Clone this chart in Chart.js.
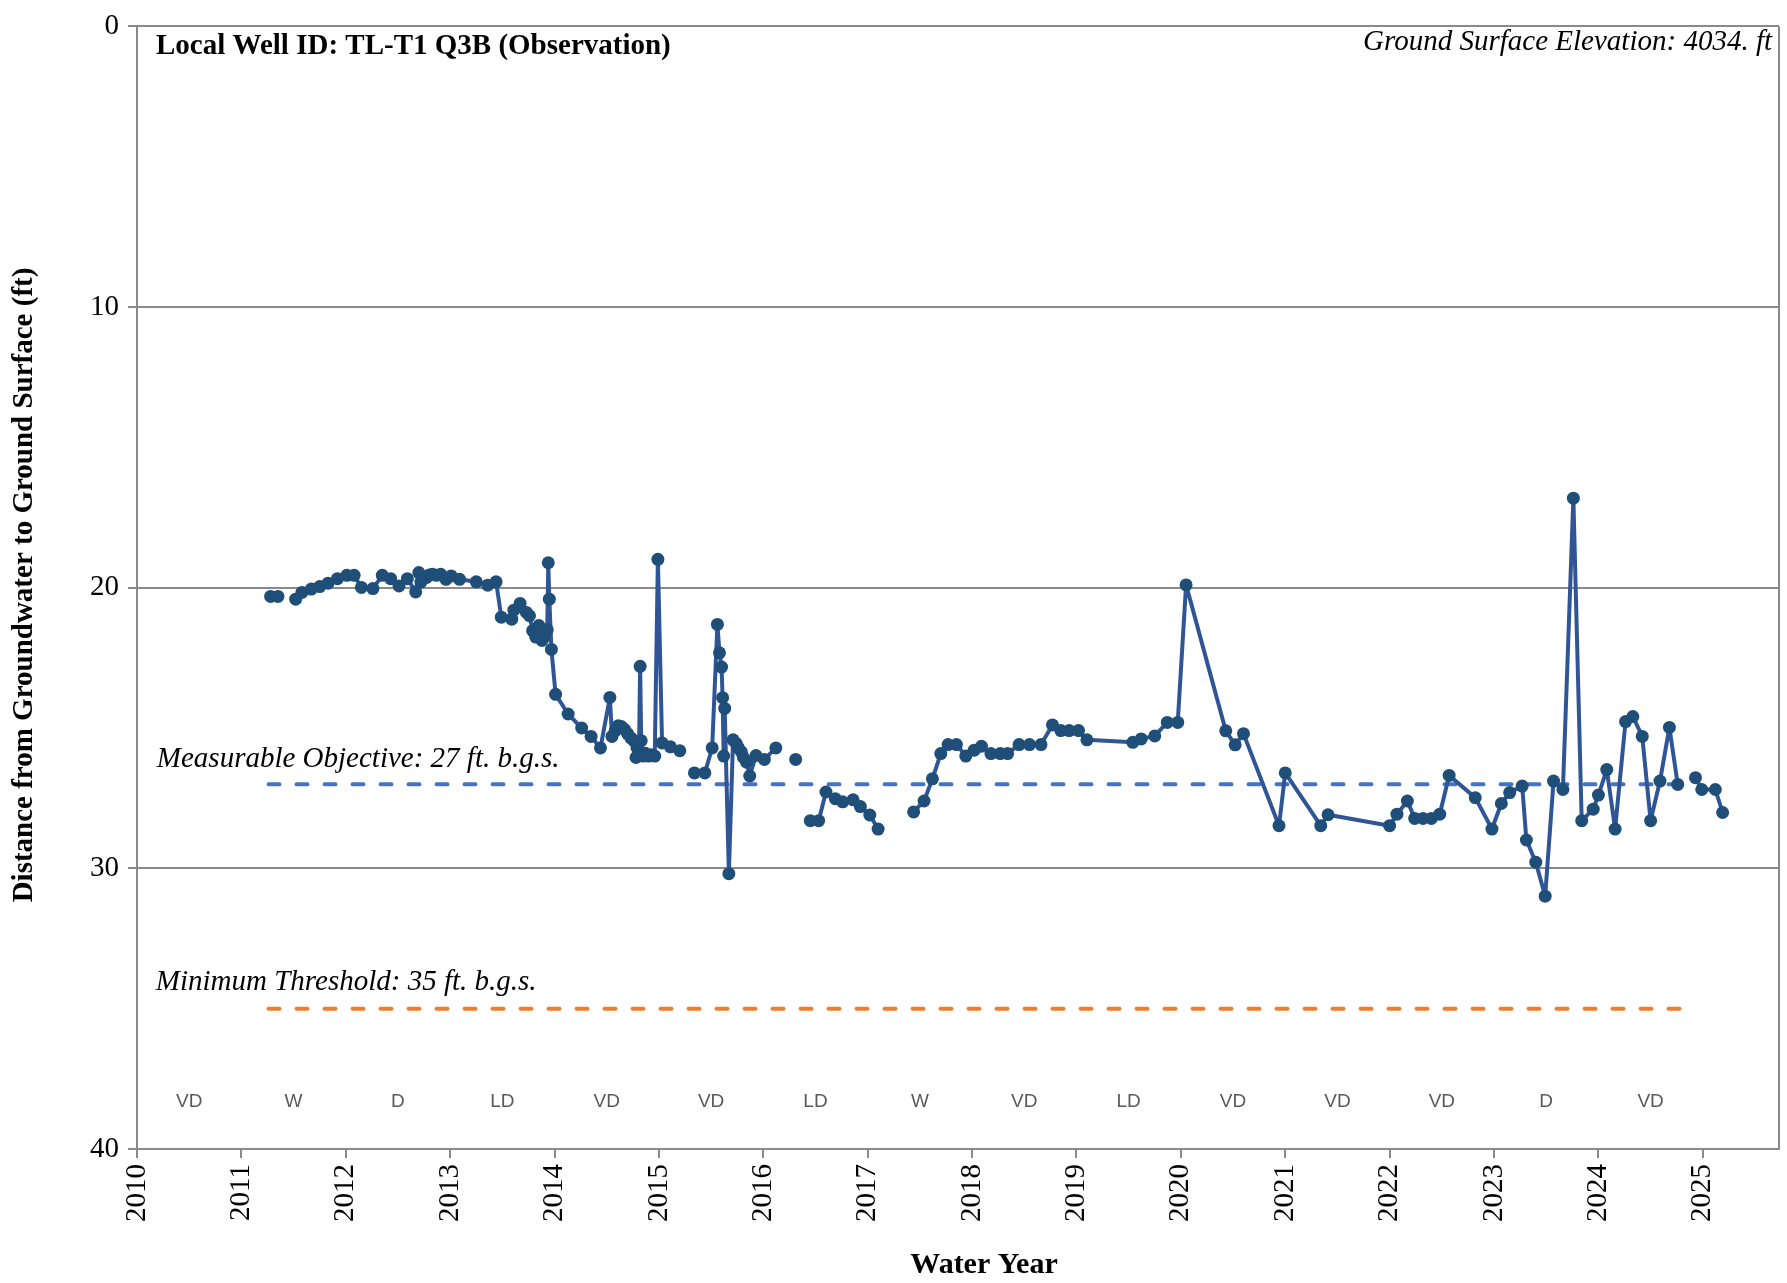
<!DOCTYPE html>
<html>
<head>
<meta charset="utf-8">
<script src="https://cdn.jsdelivr.net/npm/chart.js@4.4.0/dist/chart.umd.min.js"></script>
<style>
  html, body { margin: 0; padding: 0; background: #fff; }
</style>
</head>
<body>
<canvas id="chart" width="1787" height="1283"></canvas>
<script>
// measurement dates (decimal year) and depth to water (ft); null = break in line
const years = [
  2011.28, 2011.35, 2011.43, 2011.52, 2011.58, 2011.67, 2011.75, 2011.83, 2011.92, 2012.01,
  2012.08, 2012.15, 2012.26, 2012.35, 2012.43, 2012.51, 2012.59, 2012.67, 2012.70, 2012.72,
  2012.77, 2012.80, 2012.83, 2012.87, 2012.91, 2012.96, 2013.01, 2013.09, 2013.25, 2013.36,
  2013.44, 2013.49, 2013.59, 2013.61, 2013.67, 2013.73, 2013.76, 2013.79, 2013.81, 2013.82,
  2013.84, 2013.85, 2013.87, 2013.88, 2013.90, 2013.91, 2013.93, 2013.94, 2013.95, 2013.97,
  2014.01, 2014.13, 2014.26, 2014.35, 2014.44, 2014.53, 2014.55, 2014.58, 2014.61, 2014.64,
  2014.67, 2014.70, 2014.73, 2014.76, 2014.78, 2014.79, 2014.81, 2014.82, 2014.83, 2014.85,
  2014.87, 2014.90, 2014.93, 2014.96, 2014.99, 2015.03, 2015.11, 2015.20, 2015.27, 2015.34,
  2015.44, 2015.51, 2015.56, 2015.58, 2015.60, 2015.61, 2015.62, 2015.63, 2015.67, 2015.71,
  2015.74, 2015.76, 2015.79, 2015.81, 2015.84, 2015.87, 2015.93, 2016.01, 2016.12, 2016.20,
  2016.31, 2016.38, 2016.45, 2016.53, 2016.60, 2016.69, 2016.76, 2016.86, 2016.93, 2017.02,
  2017.10, 2017.30, 2017.44, 2017.54, 2017.62, 2017.70, 2017.77, 2017.85, 2017.94, 2018.02,
  2018.09, 2018.18, 2018.27, 2018.34, 2018.45, 2018.55, 2018.66, 2018.77, 2018.85, 2018.93,
  2019.02, 2019.10, 2019.54, 2019.62, 2019.75, 2019.87, 2019.97, 2020.05, 2020.43, 2020.52,
  2020.60, 2020.94, 2021.00, 2021.34, 2021.41, 2022.00, 2022.07, 2022.17, 2022.24, 2022.32,
  2022.40, 2022.48, 2022.57, 2022.82, 2022.98, 2023.07, 2023.15, 2023.27, 2023.31, 2023.40,
  2023.49, 2023.57, 2023.66, 2023.76, 2023.84, 2023.95, 2024.00, 2024.08, 2024.16, 2024.26,
  2024.33, 2024.42, 2024.50, 2024.59, 2024.68, 2024.76, 2024.85, 2024.93, 2024.99, 2025.12,
  2025.19
];
const depths = [
  20.31, 20.31, null, 20.41, 20.17, 20.05, 19.96, 19.84, 19.68, 19.56,
  19.56, 19.99, 20.03, 19.56, 19.68, 19.94, 19.68, 20.15, 19.46, 19.80,
  19.64, 19.55, 19.52, 19.56, 19.52, 19.70, 19.58, 19.70, 19.79, 19.91,
  19.79, 21.05, 21.12, 20.80, 20.56, 20.88, 21.00, 21.53, 21.60, 21.76,
  21.45, 21.35, 21.70, 21.88, 21.75, 21.58, 21.50, 19.11, 20.41, 22.20,
  23.80, 24.50, 25.00, 25.30, 25.71, 23.91, 25.30, 25.10, 24.92, 24.95,
  25.05, 25.20, 25.35, 25.45, 26.05, 25.70, 25.50, 22.80, 25.45, 26.00,
  25.90, 26.00, 25.95, 26.00, 18.99, 25.53, 25.67, 25.81, null, 26.60,
  26.60, 25.71, 21.31, 22.32, 22.83, 23.92, 26.00, 24.30, 30.19, 25.42,
  25.55, 25.70, 25.85, 26.05, 26.22, 26.71, 25.98, 26.12, 25.71, null,
  26.12, null, 28.30, 28.30, 27.28, 27.52, 27.63, 27.56, 27.80, 28.10,
  28.60, null, 27.99, 27.60, 26.81, 25.91, 25.59, 25.59, 26.00, 25.79,
  25.65, 25.91, 25.91, 25.91, 25.59, 25.59, 25.59, 24.89, 25.09, 25.09,
  25.09, 25.42, 25.51, 25.39, 25.28, 24.80, 24.80, 19.90, 25.10, 25.60,
  25.20, 28.48, 26.60, 28.48, 28.09, 28.48, 28.07, 27.60, 28.22, 28.22,
  28.22, 28.07, 26.69, 27.48, 28.60, 27.69, 27.30, 27.07, 28.99, 29.78,
  30.99, 26.89, 27.19, 16.81, 28.30, 27.89, 27.39, 26.48, 28.60, 24.77,
  24.59, 25.30, 28.30, 26.89, 24.98, 27.01, null, 26.77, 27.19, 27.19,
  28.01
];

// sustainability criteria (ft b.g.s.) and the span they are drawn over
const measurableObjective = 27;
const minimumThreshold = 35;
const criteriaSpan = [2011.26, 2024.83];

// water year types, one per year starting 2010
const wyStart = 2010;
const waterYearTypes = ['VD', 'W', 'D', 'LD', 'VD', 'VD', 'LD', 'W', 'VD', 'LD', 'VD', 'VD', 'VD', 'D', 'VD'];

const yTicks = [0, 10, 20, 30, 40];

const wellData = years.map((x, i) => ({ x: x, y: depths[i] }));
const moData = criteriaSpan.map(x => ({ x: x, y: measurableObjective }));
const mtData = criteriaSpan.map(x => ({ x: x, y: minimumThreshold }));

const GRID = '#8a8a8a';
const SERIF = '"Liberation Serif", "Times New Roman", serif';

const annotations = {
  id: 'annotations',
  afterDraw(chart) {
    const ctx = chart.ctx;
    const area = chart.chartArea;
    const xs = chart.scales.x;
    const ys = chart.scales.y;
    ctx.save();

    // right border of the plot box
    ctx.strokeStyle = GRID;
    ctx.lineWidth = 2;
    ctx.beginPath();
    ctx.moveTo(area.right, area.top);
    ctx.lineTo(area.right, area.bottom);
    ctx.stroke();

    ctx.fillStyle = '#000';
    ctx.textBaseline = 'middle';

    ctx.font = 'bold 29px ' + SERIF;
    ctx.textAlign = 'left';
    ctx.fillText('Local Well ID: TL-T1 Q3B (Observation)', area.left + 19, 47);

    ctx.font = 'italic 29px ' + SERIF;
    ctx.textAlign = 'right';
    ctx.fillText('Ground Surface Elevation: 4034. ft', area.right - 7, 42);

    ctx.textAlign = 'left';
    ctx.fillText('Measurable Objective: ' + measurableObjective + ' ft. b.g.s.', xs.getPixelForValue(2010.19), ys.getPixelForValue(26.1));
    ctx.fillText('Minimum Threshold: ' + minimumThreshold + ' ft. b.g.s.', xs.getPixelForValue(2010.18), ys.getPixelForValue(34.05));

    // water year type labels
    ctx.font = '19px "Liberation Sans Narrow", "Liberation Sans", sans-serif';
    ctx.fillStyle = '#595959';
    ctx.textAlign = 'center';
    waterYearTypes.forEach((t, i) => {
      ctx.fillText(t, xs.getPixelForValue(wyStart + i + 0.5), ys.getPixelForValue(38.3));
    });

    // axis titles
    ctx.fillStyle = '#000';
    ctx.font = 'bold 30px ' + SERIF;
    ctx.fillText('Water Year', 984, 1265);

    ctx.font = 'bold 29px ' + SERIF;
    ctx.translate(25, 585);
    ctx.rotate(-Math.PI / 2);
    ctx.fillText('Distance from Groundwater to Ground Surface (ft)', 0, 0);
    ctx.restore();
  }
};

const chart = new Chart(document.getElementById('chart').getContext('2d'), {
  type: 'line',
  data: {
    datasets: [
      {
        label: 'Depth to Water',
        data: wellData,
        borderColor: '#2f5597',
        borderWidth: 4,
        borderJoinStyle: 'round',
        pointRadius: 6.5,
        pointBackgroundColor: '#1f4e79',
        pointBorderColor: '#1f4e79',
        pointBorderWidth: 0,
        spanGaps: false,
        tension: 0,
        order: 0
      },
      {
        label: 'Measurable Objective',
        data: moData,
        borderColor: '#4472c4',
        borderWidth: 4,
        borderDash: [11, 17],
        borderCapStyle: 'round',
        pointRadius: 0,
        order: 1
      },
      {
        label: 'Minimum Threshold',
        data: mtData,
        borderColor: '#ed7d31',
        borderWidth: 4,
        borderDash: [11, 17],
        borderCapStyle: 'round',
        pointRadius: 0,
        order: 1
      }
    ]
  },
  options: {
    responsive: false,
    animation: false,
    layout: { padding: { top: 18, right: 8, left: 0, bottom: 0 } },
    plugins: {
      legend: { display: false },
      tooltip: { enabled: false }
    },
    scales: {
      x: {
        type: 'linear',
        min: 2010,
        max: 2025.73,
        afterFit: s => { s.height = 134; },
        grid: { drawOnChartArea: false, drawTicks: true, tickLength: 9, color: GRID, lineWidth: 2 },
        border: { color: GRID, width: 2 },
        ticks: {
          stepSize: 1,
          includeBounds: false,
          autoSkip: false,
          minRotation: 90,
          maxRotation: 90,
          padding: 6,
          color: '#000',
          font: { family: SERIF, size: 29 },
          callback: v => String(v)
        }
      },
      y: {
        reverse: true,
        min: 0,
        max: 40,
        afterFit: s => { s.width = 137; },
        afterBuildTicks: s => { s.ticks = yTicks.map(v => ({ value: v })); },
        grid: { color: GRID, lineWidth: 2, tickLength: 9 },
        border: { color: GRID, width: 2 },
        ticks: {
          padding: 9,
          color: '#000',
          font: { family: SERIF, size: 29 }
        }
      }
    }
  },
  plugins: [annotations]
});
</script>
</body>
</html>
